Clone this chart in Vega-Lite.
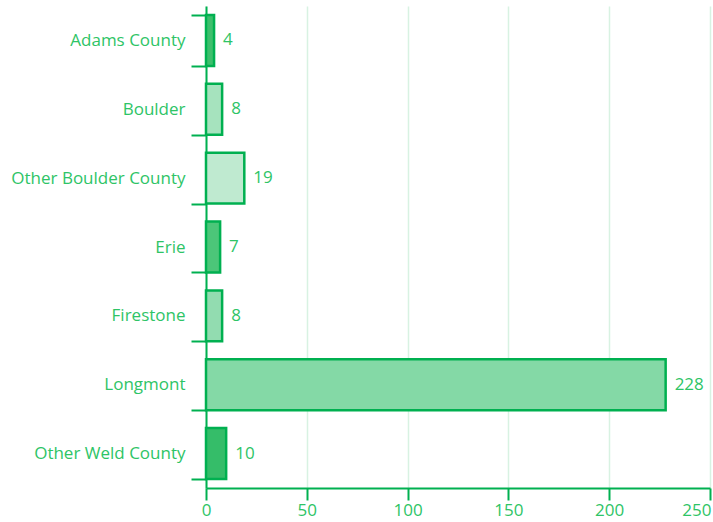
{
  "$schema": "https://vega.github.io/schema/vega-lite/v6.json",
  "width": 504,
  "height": 482,
  "autosize": {"type": "none"},
  "padding": {"left": 206, "top": 6, "right": 3, "bottom": 34},
  "background": "white",
  "data": {"values": [
    {"area": "Adams County", "count": 4},
    {"area": "Boulder", "count": 8},
    {"area": "Other Boulder County", "count": 19},
    {"area": "Erie", "count": 7},
    {"area": "Firestone", "count": 8},
    {"area": "Longmont", "count": 228},
    {"area": "Other Weld County", "count": 10}
  ]},
  "config": {
    "view": {"stroke": null},
    "font": "Open Sans"
  },
  "encoding": {
    "y": {
      "field": "area", "type": "nominal", "sort": null,
      "scale": {"paddingInner": 0.26, "paddingOuter": 0.13},
      "axis": {
        "title": null, "domainColor": "#00b050", "domainWidth": 2,
        "tickColor": "#00b050", "tickWidth": 2, "tickSize": 15, "tickBand": "extent",
        "labelColor": "#2ec466", "labelFontSize": 17, "labelPadding": 6,
        "labelFont": "Open Sans", "labelLimit": 250
      }
    }
  },
  "layer": [
    {
      "mark": {"type": "bar", "stroke": "#00b050", "strokeWidth": 2.5},
      "encoding": {
        "x": {
          "field": "count", "type": "quantitative",
          "scale": {"domain": [0, 250], "nice": false},
          "axis": {
            "title": null, "values": [0, 50, 100, 150, 200, 250],
            "domainColor": "#00b050", "domainWidth": 2,
            "tickColor": "#00b050", "tickWidth": 2, "tickSize": 12,
            "grid": true, "gridColor": "#d8f2e2", "gridWidth": 1.5,
            "labelColor": "#2ec466", "labelFontSize": 17, "labelPadding": 2,
            "labelFlush": false,
            "labelAlign": {"condition": {"test": "datum.value == 250", "value": "right"}, "value": "center"},
            "labelOffset": {"condition": {"test": "datum.value == 250", "value": 1}, "value": 0}
          }
        },
        "fill": {
          "field": "area", "type": "nominal", "legend": null,
          "scale": {
            "domain": ["Adams County", "Boulder", "Other Boulder County", "Erie", "Firestone", "Longmont", "Other Weld County"],
            "range": ["#3dbf6c", "#a6e3be", "#bfead0", "#4cc679", "#92dcb0", "#84d9a6", "#35bd69"]
          }
        }
      }
    },
    {
      "mark": {"type": "text", "align": "left", "dx": 9, "fontSize": 17, "color": "#2ec466"},
      "encoding": {
        "x": {"field": "count", "type": "quantitative"},
        "text": {"field": "count", "type": "quantitative"}
      }
    }
  ]
}
